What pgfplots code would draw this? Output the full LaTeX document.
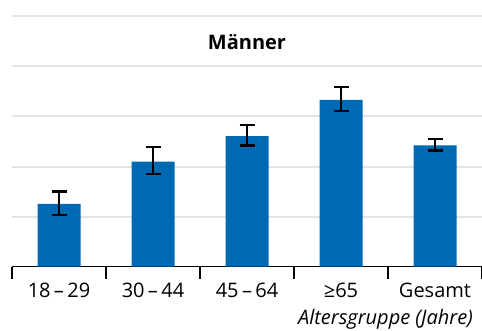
\documentclass[border=0pt]{standalone}
\usepackage{fontspec}
\setmainfont{Open Sans}
\usepackage{pgfplots}
\pgfplotsset{compat=1.18}
\usetikzlibrary{calc}
\definecolor{barblue}{HTML}{0069B4}
\definecolor{gridgray}{HTML}{E4E4E4}
\begin{document}
\begin{tikzpicture}
\begin{axis}[name=ax, scale only axis, width=235pt, height=125pt,
 xmin=-0.5, xmax=4.5, ymin=0, ymax=5,
 axis x line*=bottom, axis y line*=left,
 y axis line style={draw=none},
 ytick={1,2,3,4,5}, yticklabels={}, ymajorgrids, ytick style={draw=none},
 grid style={gridgray, line width=1pt},
 xtick={0,1,2,3,4}, xticklabels={18\,–\,29,30\,–\,44,45\,–\,64,≥65,Gesamt},
 major x tick style={draw=none},
 minor xtick={-0.5,0.5,1.5,2.5,3.5,4.5},
 minor x tick style={black, line width=0.6pt},
 minor tick length=6pt, major tick length=0pt, tick align=outside,
 x axis line style={line width=0.6pt, -},
 xticklabel style={anchor=base, yshift=-15.5pt, font=\fontsize{10}{12}\selectfont},
 ybar, bar width=21.5pt,
 clip=false,
]
\addplot[fill=barblue, draw=none,
  error bars/.cd, y dir=both, y explicit,
  error bar style={black, line width=0.8pt},
  error mark options={rotate=90, mark size=3.75pt, line width=1.2pt, black}]
coordinates {
 (0,1.254) += (0,0.246) -= (0,0.220)
 (1,2.100) += (0,0.294) -= (0,0.254)
 (2,2.606) += (0,0.220) -= (0,0.186)
 (3,3.334) += (0,0.252) -= (0,0.228)
 (4,2.420) += (0,0.134) -= (0,0.100)
};
\node[font=\bfseries\fontsize{10}{12}\selectfont] at (axis cs:2,4.48) {Männer};
\node[anchor=base east, font=\itshape\fontsize{10}{12}\selectfont, xshift=-1pt, yshift=-29pt] at (rel axis cs:1,0) {Altersgruppe (Jahre)};
\end{axis}
\pgfresetboundingbox
\path ($(ax.south west)+(-6pt,-32pt)$) rectangle ($(ax.north east)+(0,8.25pt)$);
\end{tikzpicture}
\end{document}
